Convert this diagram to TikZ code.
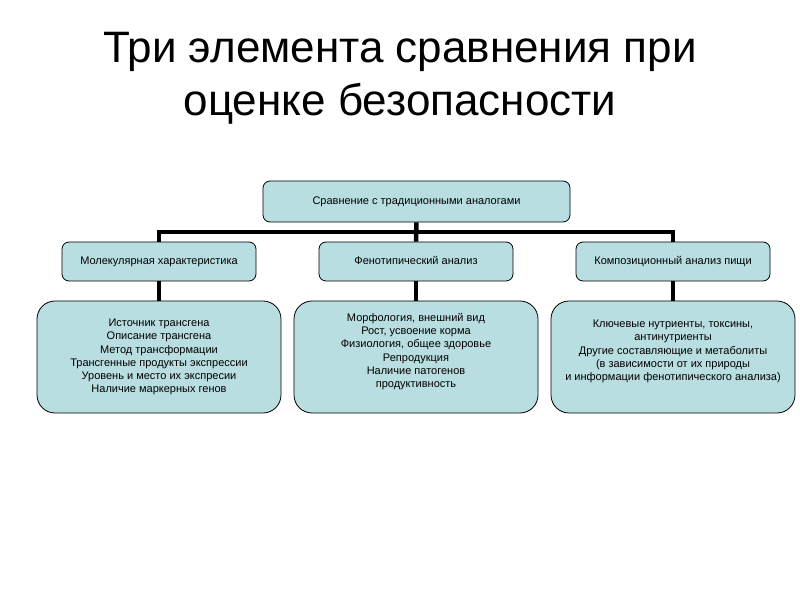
\documentclass[tikz,border=0pt]{standalone}
\usepackage{fontspec}
\setmainfont{Liberation Sans}
\definecolor{boxfill}{RGB}{185,222,225}
\tikzset{
  topbox/.style={draw=black, line width=0.8pt, fill=boxfill, rounded corners=7pt, minimum width=307pt, minimum height=41pt, inner sep=0pt, text height=8pt, text depth=2.5pt, font=\fontsize{11}{13}\selectfont},
  midbox/.style={draw=black, line width=0.8pt, fill=boxfill, rounded corners=7pt, minimum width=194pt, minimum height=39pt, inner sep=0pt, text height=8pt, text depth=2.5pt, font=\fontsize{11}{13}\selectfont},
  detbox/.style={draw=black, line width=0.8pt, fill=boxfill, rounded corners=18pt, minimum width=244pt, minimum height=112pt, inner sep=0pt, align=center, font=\fontsize{11}{13.2}\selectfont},
  bus/.style={line width=4.5pt, line join=miter},
  titletext/.style={align=center, font=\fontsize{44}{53}\selectfont}
}
\begin{document}
\begin{tikzpicture}[x=1pt,y=1pt]
\useasboundingbox (0,0) rectangle (800,600);
\fill[white] (0,0) rectangle (800,600);
\node[titletext] (title) at (400,522) {Три элемента сравнения при\\оценке безопасности};
\node[topbox] (top) at (416.5,398.5) {Сравнение с традиционными аналогами};
\node[midbox] (m1) at (159,338.5) {Молекулярная характеристика};
\node[midbox] (m2) at (416,338.5) {Фенотипический анализ};
\node[midbox] (m3) at (673,338.5) {Композиционный анализ пищи};
\node[detbox] (d1) at (159,243) {Источник трансгена\\Описание трансгена\\Метод трансформации\\Трансгенные продукты экспрессии\\Уровень и место их экспресии\\Наличие маркерных генов};
\node[detbox] (d2) at (416,243) {Морфология, внешний вид\\Рост, усвоение корма\\Физиология, общее здоровье\\Репродукция\\Наличие патогенов\\продуктивность\\\mbox{}};
\node[detbox] (d3) at (673,243) {Ключевые нутриенты, токсины,\\антинутриенты\\Другие составляющие и метаболиты\\(в зависимости от их природы\\и информации фенотипического анализа)\\\mbox{}};
\coordinate (j) at (416,368);
\draw[bus] (top.south) -- (m2.north);
\draw[bus] (m1.north) |- (j) -| (m3.north);
\draw[bus] (m1.south) -- (d1.north);
\draw[bus] (m2.south) -- (d2.north);
\draw[bus] (m3.south) -- (d3.north);
\end{tikzpicture}
\end{document}
